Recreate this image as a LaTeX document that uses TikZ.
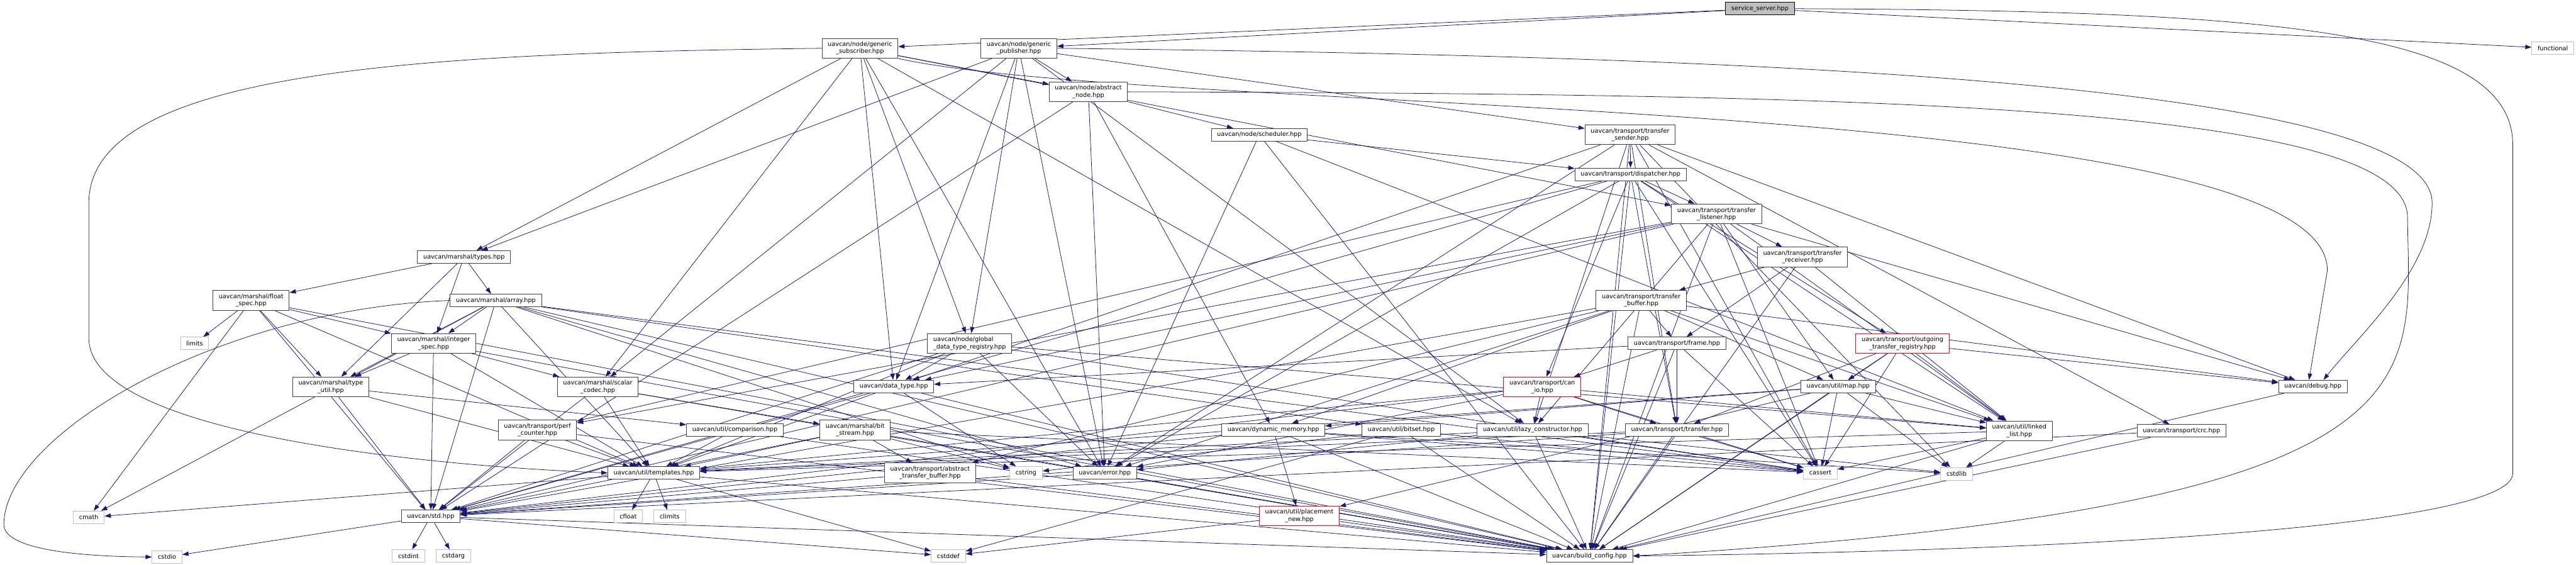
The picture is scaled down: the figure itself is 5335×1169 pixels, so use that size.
\documentclass[tikz,border=0pt]{standalone}
\usepackage{fontspec}
\setmainfont{DejaVu Sans}
\usetikzlibrary{arrows.meta,backgrounds}
\definecolor{edgeblue}{HTML}{191970}
\definecolor{sysgray}{HTML}{BFBFBF}
\tikzset{
  every picture/.style={line join=round, line cap=round},
  hdr/.style={draw=black!75, fill=white, line width=1.2pt, inner xsep=12pt, inner ysep=3pt,
    minimum height=26pt, align=center, font=\fontsize{12.65}{14.7}\selectfont},
  hdrtwo/.style={hdr, minimum height=41pt},
  sys/.style={hdr, draw=sysgray},
  trunc/.style={hdrtwo, draw=red},
  root/.style={hdr, draw=black, fill=sysgray},
  inc/.style={draw=edgeblue, line width=1pt, -{Triangle[length=13pt,width=9pt]}},
}
\begin{document}
\begin{tikzpicture}[x=1pt,y=-1pt]
\useasboundingbox (0,0) rectangle (5335,1169);
% headers, one row per rank
\node[root] (srv) at (3645,18) {service\_server.hpp};
\node[hdrtwo] (gsub) at (1781,100) {uavcan/node/generic\\\_subscriber.hpp};
\node[hdrtwo] (gpub) at (2110,100) {uavcan/node/generic\\\_publisher.hpp};
\node[sys] (func) at (5287,100) {functional};
\node[hdrtwo] (absnode) at (2254,190) {uavcan/node/abstract\\\_node.hpp};
\node[hdr] (sched) at (2608,279) {uavcan/node/scheduler.hpp};
\node[hdrtwo] (tsender) at (3376,279) {uavcan/transport/transfer\\\_sender.hpp};
\node[hdr] (disp) at (3377,361) {uavcan/transport/dispatcher.hpp};
\node[hdrtwo] (tlistener) at (3555,443) {uavcan/transport/transfer\\\_listener.hpp};
\node[hdr] (types) at (961,532) {uavcan/marshal/types.hpp};
\node[hdrtwo] (treceiver) at (3733,532) {uavcan/transport/transfer\\\_receiver.hpp};
\node[hdrtwo] (floatspec) at (520,622) {uavcan/marshal/float\\\_spec.hpp};
\node[hdr] (array) at (1027,622) {uavcan/marshal/array.hpp};
\node[hdrtwo] (tbuffer) at (3399,622) {uavcan/transport/transfer\\\_buffer.hpp};
\node[hdrtwo] (intspec) at (898,711) {uavcan/marshal/integer\\\_spec.hpp};
\node[sys] (limits) at (403,711) {limits};
\node[hdrtwo, align=left] (gdtr) at (2008,711) {uavcan/node/global\\\_data\_type\_registry.hpp};
\node[hdr] (frame) at (3473,711) {uavcan/transport/frame.hpp};
\node[trunc] (outreg) at (3940,711) {uavcan/transport/outgoing\\\_transfer\_registry.hpp};
\node[hdrtwo] (typeutil) at (685,801) {uavcan/marshal/type\\\_util.hpp};
\node[hdrtwo] (scalar) at (1238,801) {uavcan/marshal/scalar\\\_codec.hpp};
\node[hdr] (datatype) at (1851,800) {uavcan/data\_type.hpp};
\node[trunc] (canio) at (3194,801) {uavcan/transport/can\\\_io.hpp};
\node[hdr] (map) at (3807,800) {uavcan/util/map.hpp};
\node[hdr] (debug) at (4790,800) {uavcan/debug.hpp};
\node[hdrtwo] (perf) at (1113,890) {uavcan/transport/perf\\\_counter.hpp};
\node[hdr] (comparison) at (1522,890) {uavcan/util/comparison.hpp};
\node[hdrtwo] (bitstream) at (1771,890) {uavcan/marshal/bit\\\_stream.hpp};
\node[hdr] (dynmem) at (2637,890) {uavcan/dynamic\_memory.hpp};
\node[hdr] (bitset) at (2902,890) {uavcan/util/bitset.hpp};
\node[hdr] (lazy) at (3174,890) {uavcan/util/lazy\_constructor.hpp};
\node[hdr] (transfer) at (3473,890) {uavcan/transport/transfer.hpp};
\node[hdrtwo] (linkedlist) at (4182,892) {uavcan/util/linked\\\_list.hpp};
\node[hdr] (crc) at (4518,892) {uavcan/transport/crc.hpp};
\node[hdr] (templates) at (1354,979) {uavcan/util/templates.hpp};
\node[hdrtwo] (atb) at (1926,979) {uavcan/transport/abstract\\\_transfer\_buffer.hpp};
\node[sys] (cstring) at (2125,979) {cstring};
\node[hdr] (error) at (2288,979) {uavcan/error.hpp};
\node[sys] (cassert) at (3770,979) {cassert};
\node[sys] (cstdlib) at (4052,981) {cstdlib};
\node[hdr] (std) at (892,1069) {uavcan/std.hpp};
\node[sys] (cmath) at (184,1071) {cmath};
\node[sys] (cfloat) at (1301,1069) {cfloat};
\node[sys] (climits) at (1387,1069) {climits};
\node[trunc] (placement) at (2691,1068) {uavcan/util/placement\\\_new.hpp};
\node[sys] (cstdio) at (346,1153) {cstdio};
\node[sys] (cstdint) at (846,1151) {cstdint};
\node[sys] (cstdarg) at (939,1151) {cstdarg};
\node[sys] (cstddef) at (1964,1151) {cstddef};
\node[hdr] (buildconfig) at (3292,1151) {uavcan/build\_config.hpp};

\begin{scope}[on background layer]
% includes
\foreach \a/\b in {srv/gsub, srv/gpub, srv/func,
  gsub/absnode, gsub/gdtr, gsub/datatype, gsub/scalar, gsub/types, gsub/tlistener, gsub/lazy, gsub/error,
  gpub/absnode, gpub/gdtr, gpub/datatype, gpub/scalar, gpub/types, gpub/tsender, gpub/lazy, gpub/error,
  absnode/sched, absnode/dynmem, absnode/error, absnode/std,
  sched/disp, sched/linkedlist, sched/error, sched/buildconfig,
  tsender/disp, tsender/crc, tsender/transfer, tsender/error, tsender/datatype, tsender/cstdlib,
  tsender/cassert, tsender/buildconfig, tsender/debug, tsender/lazy,
  disp/tlistener, disp/outreg, disp/canio, disp/linkedlist, disp/perf, disp/error, disp/cassert,
  disp/buildconfig, disp/transfer, disp/std,
  tlistener/treceiver, tlistener/perf, tlistener/linkedlist, tlistener/map, tlistener/debug,
  tlistener/datatype, tlistener/lazy, tlistener/cassert, tlistener/buildconfig, tlistener/std,
  treceiver/tbuffer, treceiver/frame, treceiver/buildconfig, treceiver/linkedlist,
  tbuffer/frame, tbuffer/linkedlist, tbuffer/atb, tbuffer/dynmem, tbuffer/map, tbuffer/debug,
  tbuffer/error, tbuffer/buildconfig, tbuffer/std,
  frame/transfer, frame/canio, frame/cassert, frame/buildconfig, frame/datatype,
  outreg/map, outreg/debug, outreg/cassert, outreg/buildconfig, outreg/transfer, outreg/linkedlist,
  canio/lazy, canio/cassert, canio/error, canio/std, canio/linkedlist, canio/transfer, canio/templates,
  map/linkedlist, map/cstdlib, map/cassert, map/buildconfig, map/dynmem, map/templates, map/placement,
  debug/buildconfig,
  linkedlist/cstdlib, linkedlist/cassert, linkedlist/buildconfig, linkedlist/templates,
  crc/std, crc/buildconfig,
  transfer/cassert, transfer/buildconfig, transfer/templates, transfer/std,
  lazy/cstdlib, lazy/cassert, lazy/error, lazy/buildconfig, lazy/templates,
  bitset/cassert, bitset/cstddef, bitset/cstring, bitset/buildconfig,
  dynmem/placement, dynmem/cstdlib, dynmem/cassert, dynmem/std, dynmem/buildconfig,
  placement/cstddef, placement/buildconfig,
  error/std, error/buildconfig,
  atb/std, atb/buildconfig,
  bitstream/atb, bitstream/std, bitstream/buildconfig, bitstream/cassert, bitstream/cstring, bitstream/templates,
  comparison/templates, comparison/buildconfig,
  perf/std, perf/templates, perf/buildconfig,
  templates/cfloat, templates/climits, templates/cmath, templates/cstddef, templates/buildconfig,
  std/cstdint, std/cstdarg, std/cstdio, std/cstddef, std/buildconfig,
  typeutil/templates, typeutil/comparison, typeutil/std,
  scalar/bitstream, scalar/templates, scalar/std, scalar/buildconfig,
  datatype/cstring, datatype/std, datatype/buildconfig, datatype/templates,
  gdtr/datatype, gdtr/error, gdtr/linkedlist, gdtr/std, gdtr/templates, gdtr/cassert,
  intspec/scalar, intspec/typeutil, intspec/std, intspec/templates, intspec/buildconfig,
  floatspec/cmath, floatspec/limits, floatspec/typeutil, floatspec/intspec, floatspec/std,
  floatspec/templates, floatspec/buildconfig,
  array/intspec, array/typeutil, array/bitset, array/std, array/templates, array/cassert,
  array/cstring, array/cmath, array/error, array/buildconfig,
  types/floatspec, types/array, types/intspec, types/typeutil}
  \draw[inc] (\a) -- (\b);
% long ones routed round the sides
\draw[inc] (srv.east) .. controls (4700,22) and (5204,60) .. (5204,300) -- (5204,980)
  .. controls (5204,1090) and (4300,1140) .. (buildconfig.east);
\draw[inc] (gpub.east) .. controls (3500,115) and (5037,160) .. (5037,420)
  .. controls (5037,560) and (4880,700) .. ([xshift=22pt]debug.north);
\draw[inc] (gsub.south east) .. controls (2400,240) and (4820,190) .. (4820,560)
  -- ([xshift=-8pt]debug.north);
\draw[inc] (absnode.east) .. controls (3800,195) and (4986,210) .. (4986,450)
  .. controls (4990,800) and (5080,1050) .. (buildconfig.east);
\draw[inc] (gsub.west) .. controls (900,110) and (184,140) .. (184,420) -- (184,700)
  .. controls (184,900) and (900,965) .. (templates.west);
\draw[inc] (array.west) .. controls (450,640) and (10,900) .. (8,1085)
  .. controls (6,1135) and (150,1152) .. (cstdio.west);
\end{scope}
\end{tikzpicture}
\end{document}
